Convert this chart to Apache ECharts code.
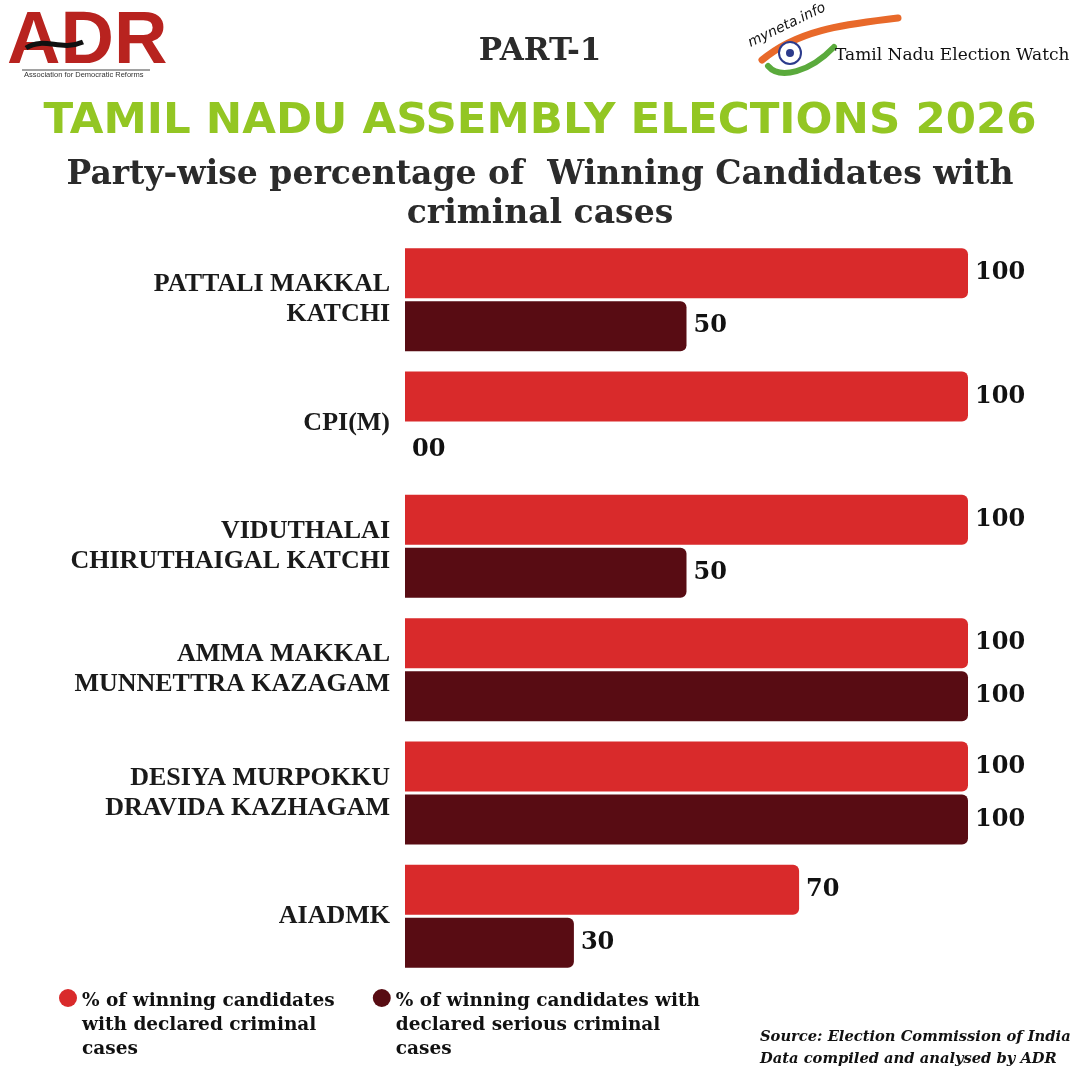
<!DOCTYPE html>
<html>
<head>
<meta charset="utf-8">
<title>Tamil Nadu Assembly Elections 2026</title>
<script src="https://cdn.jsdelivr.net/npm/echarts@6/dist/echarts.min.js"></script>
<style>
  html, body { margin: 0; padding: 0; background: #ffffff; }
  #chart { width: 1080px; height: 1080px; }
</style>
</head>
<body>
<div id="chart"></div>
<script>
// party names (top to bottom)
const parties = [
  'PATTALI MAKKAL\nKATCHI',
  'CPI(M)',
  'VIDUTHALAI\nCHIRUTHAIGAL KATCHI',
  'AMMA MAKKAL\nMUNNETTRA KAZAGAM',
  'DESIYA MURPOKKU\nDRAVIDA KAZHAGAM',
  'AIADMK'
]
// % of winning candidates with declared criminal cases
const criminalPct = [100, 100, 100, 100, 100, 70]
// % of winning candidates with declared serious criminal cases
const seriousPct = [50, 0, 50, 100, 100, 30]

const seriesNames = [
  '% of winning candidates\nwith declared criminal\ncases',
  '% of winning candidates with\ndeclared serious criminal\ncases'
]

const RED = '#d92a2b'
const DARK = '#580c13'
const SERIF = '"DejaVu Serif", serif'

// circle on top of a tall empty box, so the dot sits on the first text line
const LEGEND_DOT = 'path://M9,0 A9,9 0 1,1 9,18 A9,9 0 1,1 9,0 Z M9,72'

const valueLabel = {
  show: true,
  position: 'right',
  distance: 7,
  fontFamily: SERIF,
  fontWeight: 'bold',
  fontSize: 24,
  color: '#111111',
  formatter: p => (p.value === 0 ? '00' : String(p.value))
}

const chart = echarts.init(document.getElementById('chart'))

chart.setOption({
  backgroundColor: '#ffffff',
  animation: false,
  title: [
    {
      text: 'PART-1',
      left: 'center',
      top: 31,
      textStyle: { fontFamily: SERIF, fontWeight: 'bold', fontSize: 31, color: '#2b2b2b' }
    },
    {
      text: 'TAMIL NADU ASSEMBLY ELECTIONS 2026',
      left: 'center',
      top: 95,
      textStyle: { fontFamily: '"DejaVu Sans", sans-serif', fontWeight: 'bold', fontSize: 43.5, color: '#93c623' }
    },
    {
      text: 'Party-wise percentage of  Winning Candidates with\ncriminal cases',
      left: 'center',
      top: 151,
      textStyle: {
        fontFamily: SERIF, fontWeight: 'bold', fontSize: 33, lineHeight: 39,
        color: '#2b2b2b'
      }
    },
    {
      text: 'Source: Election Commission of India\nData compiled and analysed by ADR',
      left: 755,
      top: 1021,
      textStyle: {
        fontFamily: SERIF, fontWeight: 'bold', fontStyle: 'italic',
        fontSize: 14.7, lineHeight: 22, color: '#111111'
      }
    }
  ],
  legend: {
    data: seriesNames,
    left: 54,
    top: 984,
    itemGap: 38,
    icon: LEGEND_DOT,
    itemWidth: 18,
    itemHeight: 72,
    textStyle: {
      fontFamily: SERIF, fontWeight: 'bold', fontSize: 18.5, lineHeight: 24,
      color: '#111111'
    }
  },
  grid: { left: 405, right: 112, top: 238, height: 740 },
  xAxis: {
    type: 'value',
    min: 0,
    max: 100,
    show: false
  },
  yAxis: {
    type: 'category',
    data: parties,
    inverse: true,
    axisLine: { show: false },
    axisTick: { show: false },
    axisLabel: {
      margin: 15,
      align: 'right',
      fontFamily: '"Liberation Serif", serif',
      fontWeight: 'bold',
      fontSize: 26,
      lineHeight: 30,
      color: '#1a1a1a'
    }
  },
  series: [
    {
      name: seriesNames[0],
      type: 'bar',
      data: criminalPct,
      barWidth: 50,
      barGap: '6%',
      itemStyle: { color: RED, borderRadius: [0, 6, 6, 0] },
      label: valueLabel
    },
    {
      name: seriesNames[1],
      type: 'bar',
      data: seriousPct,
      barWidth: 50,
      itemStyle: { color: DARK, borderRadius: [0, 6, 6, 0] },
      label: valueLabel
    }
  ],
  graphic: [
    // ADR logo
    {
      type: 'text',
      left: 7, top: 6,
      style: {
        text: 'ADR',
        font: 'bold 74px "Liberation Sans", sans-serif',
        fill: '#b8231f'
      }
    },
    {
      type: 'bezierCurve',
      shape: { x1: 26, y1: 48, cpx1: 45, cpy1: 36, cpx2: 60, cpy2: 52, x2: 83, y2: 42 },
      style: { stroke: '#111111', lineWidth: 5, fill: null }
    },
    {
      type: 'line',
      shape: { x1: 22, y1: 70, x2: 150, y2: 70 },
      style: { stroke: '#444444', lineWidth: 1 }
    },
    {
      type: 'text',
      left: 24, top: 71,
      style: {
        text: 'Association for Democratic Reforms',
        font: '7.5px "Liberation Sans", sans-serif',
        fill: '#333333'
      }
    },
    // myneta.info logo
    {
      type: 'bezierCurve',
      shape: { x1: 762, y1: 60, cpx1: 800, cpy1: 28, cpx2: 850, cpy2: 24, x2: 898, y2: 18 },
      style: { stroke: '#e8692a', lineWidth: 7, fill: null, lineCap: 'round' }
    },
    {
      type: 'bezierCurve',
      shape: { x1: 768, y1: 66, cpx1: 780, cpy1: 80, cpx2: 810, cpy2: 72, x2: 834, y2: 47 },
      style: { stroke: '#5aaa3c', lineWidth: 6, fill: null, lineCap: 'round' }
    },
    {
      type: 'circle',
      shape: { cx: 790, cy: 53, r: 11 },
      style: { fill: '#ffffff', stroke: '#2c3b8c', lineWidth: 2 }
    },
    {
      type: 'circle',
      shape: { cx: 790, cy: 53, r: 4 },
      style: { fill: '#2c3b8c' }
    },
    {
      type: 'text',
      x: 752, y: 50,
      rotation: 0.45,
      style: {
        text: 'myneta.info',
        font: 'italic 14px "DejaVu Sans", sans-serif',
        fill: '#111111',
        verticalAlign: 'bottom'
      }
    },
    {
      type: 'text',
      left: 835, top: 47,
      style: {
        text: 'Tamil Nadu Election Watch',
        font: '17px "DejaVu Serif", serif',
        fill: '#111111'
      }
    }
  ]
})
</script>
</body>
</html>
